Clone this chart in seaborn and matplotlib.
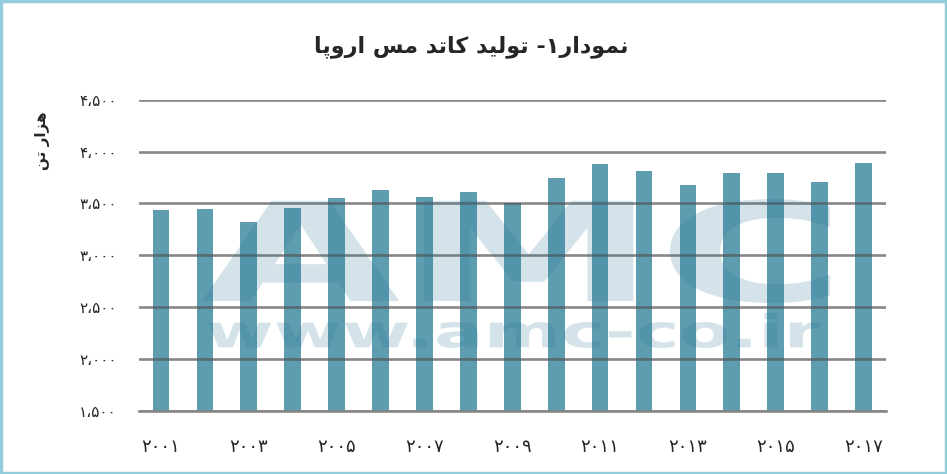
import numpy as np
import seaborn as sns
import matplotlib
matplotlib.use('Agg')
import matplotlib.pyplot as plt
from matplotlib.font_manager import FontProperties
from matplotlib.textpath import TextPath
from matplotlib.patches import PathPatch, Rectangle
from matplotlib.transforms import Affine2D

# data (thousand tonnes)
years = [str(y) for y in range(2001, 2018)]
values = [3435, 3445, 3325, 3460, 3550, 3625, 3560, 3605, 3500,
          3745, 3880, 3810, 3675, 3790, 3790, 3705, 3890]
y_ticks = [1500, 2000, 2500, 3000, 3500, 4000, 4500]
label_years = years[::2]

# Persian text in presentation forms, visual order (matplotlib does no shaping)
title_txt = ('\uFE8E\uFB58\uFEED\uFEAD\uFE8D' + ' ' + '\uFEB2\uFEE3' + ' '
             + '\uFEAA\uFE97\uFE8E\uFB90' + ' ' + '\uFEAA\uFBFF\uFEDF\uFEEE\uFE97'
             + ' ' + '-\u06F1\uFEAD\uFE8D\uFEA9\uFEEE\uFEE4\uFEE7')
ylabel_txt = '\uFEE6\uFE97 \uFEAD\uFE8D\uFEB0\uFEEB'

fa = str.maketrans('0123456789', '۰۱۲۳۴۵۶۷۸۹')

W, H = 947, 474
bar_color = '#5e9db0'
grid_color = '#878787'

sns.set_style('white')
plt.rcParams['font.family'] = ['DejaVu Sans']

fig = plt.figure(figsize=(W / 100, H / 100), dpi=100)
ax = fig.add_axes([139 / W, 1 - 410.7 / H, (885.5 - 139) / W, (410.7 - 99.7) / H])

sns.barplot(x=years, y=values, color=bar_color, saturation=1, width=0.38,
            linewidth=0, edgecolor='none', ax=ax)

ax.set_ylim(1500, 4500)
ax.set_xlim(-0.5, len(years) - 0.5)
ax.set_yticks(y_ticks)
ax.set_yticklabels([f'{v:,}'.replace(',', '،').translate(fa) for v in y_ticks], fontsize=11)
# gridlines show through the bars in the original
ax.set_axisbelow(False)
ax.yaxis.grid(True, color='#555555', alpha=0.7, lw=1.9)
ax.tick_params(axis='y', length=0, pad=16)

# tick marks between categories, labels on every other year
ax.set_xticks(np.arange(-0.5, len(years), 1))
ax.set_xticklabels([])
ax.set_xticks(range(0, len(years), 2), minor=True)
ax.set_xticklabels([y.translate(fa) for y in label_years], minor=True, fontsize=13)
ax.tick_params(axis='x', which='major', length=6, width=1.5, color=grid_color, direction='out')
ax.tick_params(axis='x', which='minor', length=0, pad=20)

for s in ['top', 'right', 'left']:
    ax.spines[s].set_visible(False)
ax.spines['bottom'].set_color(grid_color)
ax.spines['bottom'].set_linewidth(1.9)
ax.spines['bottom'].set_zorder(3)
ax.set_xlabel('')
ax.set_ylabel('')

fig.text(471 / W, 1 - 47 / H, title_txt, ha='center', va='center', fontsize=16, fontweight='bold')
fig.text(42 / W, 1 - 141 / H, ylabel_txt, ha='center', va='center', rotation=90, fontsize=11,
         fontweight='bold')


def watermark(s, box):
    x0, y0, x1, y1 = box
    tp = TextPath((0, 0), s, size=100, prop=FontProperties(family='DejaVu Sans', weight='bold'))
    ext = tp.get_extents()
    tr = (Affine2D().translate(-ext.x0, -ext.y0)
          .scale((x1 - x0) / ext.width / W, (y1 - y0) / ext.height / H)
          .translate(x0 / W, 1 - y1 / H) + fig.transFigure)
    fig.add_artist(PathPatch(tp, transform=tr, fc='#1f6f8b', ec='none', alpha=0.19, zorder=3))


watermark('AMC', (202, 199, 830, 303))
watermark('www.amc-co.ir', (208, 313, 820, 348))

fig.add_artist(Rectangle((0.0015, 0.003), 0.997, 0.994, transform=fig.transFigure,
                         fill=False, ec='#92cddc', lw=2.5, zorder=5))

fig.savefig('out.png', dpi=100)
